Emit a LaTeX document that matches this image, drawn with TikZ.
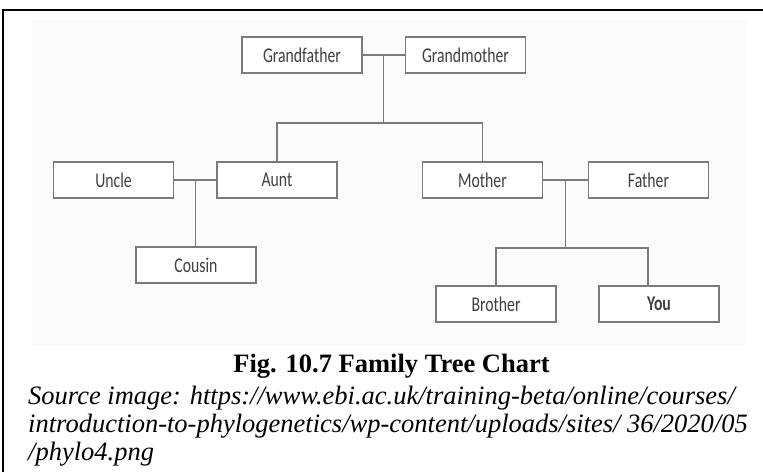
\documentclass[tikz,border=0pt]{standalone}
\usepackage{fontspec}
\setmainfont{Liberation Serif}
\newfontfamily\boxfont[FakeStretch=0.75]{Carlito}
\usepackage{xcolor}
\usepackage{tikz}
\usetikzlibrary{positioning}
\definecolor{boxline}{HTML}{7A7A7A}
\definecolor{boxtext}{HTML}{404040}
\tikzset{person/.style={draw=boxline,fill=white,line width=1.3pt,minimum width=120pt,minimum height=36pt,inner sep=0pt,text=boxtext,font=\boxfont\fontsize{21}{21}\selectfont},
link/.style={draw=boxline,line width=1.3pt}}

\begin{document}
\begin{tikzpicture}[x=1pt,y=1pt]
\useasboundingbox (0,0) rectangle (763,-472);
\fill[gray!3](32,-20) rectangle (747,-345);
\draw[line width=2.5pt](3,-472)--(3,-10)--(763,-10);
\node[person](gf) at (302,-55){Grandfather};
\node[person](gm) at (465.5,-55){Grandmother};
\node[person](uncle) at (113.5,-180){Uncle};
\node[person](aunt) at (277,-180){Aunt};
\node[person](mother) at (482.5,-180){Mother};
\node[person](father) at (648.5,-180){Father};
\node[person](cousin) at (196,-265){Cousin};
\node[person](brother) at (496,-304){Brother};
\node[person,font=\boxfont\bfseries\fontsize{21}{21}\selectfont](you) at (659,-304){You};
\path[link](gf)--coordinate[midway](gp)(gm);
\path[link](uncle)--coordinate[midway](ua)(aunt);
\path[link](mother)--coordinate[midway](mf)(father);
\draw[link](gp)--++(0,-68)coordinate(gpsplit);
\draw[link](aunt.north)|-(gpsplit)-|(mother.north);
\draw[link](ua)--(ua|-cousin.north);
\draw[link](mf)--++(0,-68)coordinate(mfsplit);
\draw[link](brother.north)|-(mfsplit)-|([xshift=-11pt]you.north);
\node[anchor=base,font=\bfseries\fontsize{26.5}{30}\selectfont](cap) at (391.5,-372){Fig. 10.7 Family Tree Chart};
\node[anchor=base west,inner sep=0pt,font=\itshape\fontsize{26.5}{28}\selectfont](src1) at (28,-404){Source image: https://www.ebi.ac.uk/training-beta/online/courses/};
\node[anchor=base west,inner sep=0pt,font=\itshape\fontsize{26.5}{28}\selectfont](src2) at (28,-432){introduction-to-phylogenetics/wp-content/uploads/sites/ 36/2020/05};
\node[anchor=base west,inner sep=0pt,font=\itshape\fontsize{26.5}{28}\selectfont](src3) at (28,-460){/phylo4.png};
\end{tikzpicture}
\end{document}
